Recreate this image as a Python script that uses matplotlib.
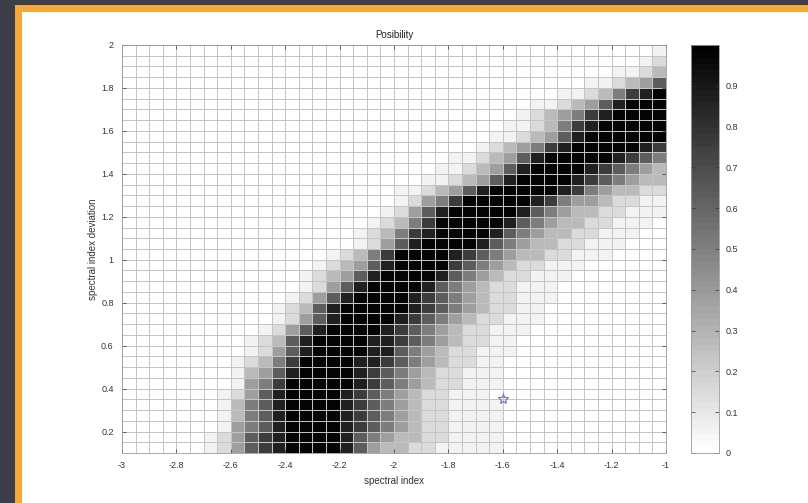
import numpy as np
import matplotlib
matplotlib.use("Agg")
import matplotlib.pyplot as plt
from matplotlib.patches import Rectangle
from matplotlib.colors import ListedColormap

# ---------------- data ----------------
title = "Posibility"
x_label = "spectral index"
y_label = "spectral index deviation"

x_ticks = [-3, -2.8, -2.6, -2.4, -2.2, -2, -1.8, -1.6, -1.4, -1.2, -1]
x_tick_labels = ["-3", "-2.8", "-2.6", "-2.4", "-2.2", "-2", "-1.8", "-1.6", "-1.4", "-1.2", "-1"]
y_ticks = [0.2, 0.4, 0.6, 0.8, 1.0, 1.2, 1.4, 1.6, 1.8, 2.0]
y_tick_labels = ["0.2", "0.4", "0.6", "0.8", "1", "1.2", "1.4", "1.6", "1.8", "2"]
cbar_ticks = [0, 0.1, 0.2, 0.3, 0.4, 0.5, 0.6, 0.7, 0.8, 0.9]
cbar_tick_labels = ["0", "0.1", "0.2", "0.3", "0.4", "0.5", "0.6", "0.7", "0.8", "0.9"]

# cell edges of the probability grid (spectral index x deviation)
x_edges = np.round(np.linspace(-3.0, -1.0, 41), 3)
y_edges = np.round(np.linspace(0.1, 2.0, 39), 3)

# visually read grey level of each cell (0 = white ... 9 = black), rows bottom -> top
grey_levels = [0.0, 0.06, 0.15, 0.27, 0.39, 0.51, 0.63, 0.75, 0.87, 0.98]
rows = [
    "0000001246" "7899998643" "3221111100" "0000000000",
    "0000001246" "7899998654" "3322111100" "0000000000",
    "0000000145" "6899998765" "4322111100" "0000000000",
    "0000000135" "6899998765" "4322111100" "0000000000",
    "0000000135" "6899998765" "4322111100" "0000000000",
    "0000000124" "6899998765" "4322111000" "0000000000",
    "0000000014" "5799999876" "5432211100" "0000000000",
    "0000000013" "4689999876" "5432211100" "0000000000",
    "0000000012" "3579999887" "6543221100" "0000000000",
    "0000000001" "2468999988" "6543221110" "0000000000",
    "0000000001" "2368999988" "7654322110" "0000000000",
    "0000000000" "1246899998" "7654322111" "0000000000",
    "0000000000" "0124689999" "8765432211" "1000000000",
    "0000000000" "0123689999" "9876543221" "1000000000",
    "0000000000" "0012468999" "9876543221" "1100000000",
    "0000000000" "0001246899" "9986543221" "1100000000",
    "0000000000" "0001234689" "9998654322" "1110000000",
    "0000000000" "0000123468" "9999765432" "2111000000",
    "0000000000" "0000012357" "9999876543" "3221110000",
    "0000000000" "0000000124" "6899998654" "3322111000",
    "0000000000" "0000000123" "5789999865" "4332211100",
    "0000000000" "0000000012" "3579999986" "5433221110",
    "0000000000" "0000000001" "2468999998" "6543322111",
    "0000000000" "0000000000" "1245799999" "8754432211",
    "0000000000" "0000000000" "1123468999" "9987543322",
    "0000000000" "0000000000" "0011234689" "9998765433",
    "0000000000" "0000000000" "0001123468" "9999876543",
    "0000000000" "0000000000" "0000112346" "8999998765",
    "0000000000" "0000000000" "0000001234" "5789999987",
    "0000000000" "0000000000" "0000000112" "3468999999",
    "0000000000" "0000000000" "0000000011" "2357899999",
    "0000000000" "0000000000" "0000000001" "2345789999",
    "0000000000" "0000000000" "0000000000" "1123468999",
    "0000000000" "0000000000" "0000000000" "0011235789",
    "0000000000" "0000000000" "0000000000" "0000112346",
    "0000000000" "0000000000" "0000000000" "0000001123",
    "0000000000" "0000000000" "0000000000" "0000000012",
    "0000000000" "0000000000" "0000000000" "0000000001",
]

star_x = [-1.6]
star_y = [0.35]

# ---------------- figure ----------------
plt.rcParams["font.family"] = ["Liberation Sans", "DejaVu Sans"]
W, H = 808, 503
fig = plt.figure(figsize=(W / 100, H / 100), dpi=100)
fig.patch.set_facecolor("#3c3f49")

# slide frame: orange border and white panel (drawn in a background axes)
bg = fig.add_axes([0, 0, 1, 1], zorder=-10)
bg.set_xlim(0, W)
bg.set_ylim(H, 0)
bg.axis("off")
bg.add_patch(Rectangle((15, 5), W - 15, H - 5, facecolor="#f5a93a", edgecolor="none"))
bg.add_patch(Rectangle((22, 12), W - 22, H - 12, facecolor="white", edgecolor="none"))

Z = np.array([[grey_levels[int(c)] for c in r] for r in rows])

cmap = ListedColormap(plt.get_cmap("gray_r")(np.linspace(0, 1, 64)))

ax = fig.add_axes([122 / W, 1 - 453 / H, (666 - 122) / W, (453 - 45) / H])
mesh = ax.pcolormesh(x_edges, y_edges, Z, cmap=cmap, vmin=0, vmax=1,
                     edgecolors="#c4c4c4", linewidth=0.5, shading="flat")
ax.plot(star_x, star_y, linestyle="none", marker="*", markersize=8,
        markerfacecolor="none", markeredgecolor="#7474b0", markeredgewidth=0.8)

ax.set_xlim(-3, -1)
ax.set_ylim(0.1, 2.0)
ax.set_xticks(x_ticks)
ax.set_xticklabels(x_tick_labels)
ax.set_yticks(y_ticks)
ax.set_yticklabels(y_tick_labels)
ax.tick_params(direction="in", length=3, width=0.5, labelsize=6.5,
               colors="#333333", top=True, right=True, pad=6)
for s in ax.spines.values():
    s.set_color("#9a9a9a")
    s.set_linewidth(0.6)
ax.set_title(title, fontsize=7, color="#222222", pad=5)
ax.set_xlabel(x_label, fontsize=7, color="#333333", labelpad=4)
ax.set_ylabel(y_label, fontsize=7, color="#333333", labelpad=2)

cax = fig.add_axes([691 / W, 1 - 453 / H, 28 / W, (453 - 45) / H])
cb = fig.colorbar(mesh, cax=cax)
cb.set_ticks(cbar_ticks)
cb.set_ticklabels(cbar_tick_labels)
cax.tick_params(direction="in", length=3, width=0.5, labelsize=6.5,
                colors="#333333", left=True, right=True, pad=5)
cb.outline.set_edgecolor("#9a9a9a")
cb.outline.set_linewidth(0.6)

fig.savefig("out.png", dpi=100, facecolor=fig.get_facecolor())
